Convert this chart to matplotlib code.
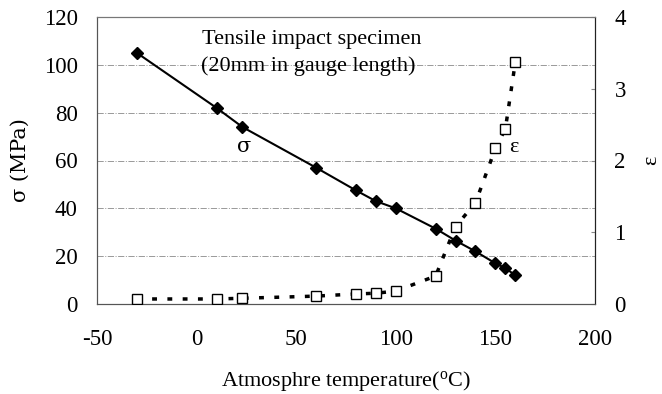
import matplotlib
matplotlib.use("Agg")
import matplotlib.pyplot as plt
from matplotlib.ticker import MultipleLocator

temp = [-30, 10, 23, 60, 80, 90, 100, 120, 130, 140, 150, 155, 160]
sigma = [105, 82, 74, 57, 47.5, 43, 40, 31.5, 26.5, 22, 17, 15, 12]
eps = [0.07, 0.07, 0.08, 0.11, 0.14, 0.15, 0.18, 0.39, 1.08, 1.41, 2.17, 2.44, 3.37]

plt.rcParams["font.family"] = ["Liberation Serif", "DejaVu Serif"]
plt.rcParams["font.size"] = 16.5
plt.rcParams["axes.unicode_minus"] = False

fig = plt.figure(figsize=(6.62, 3.94), dpi=100)
ax = fig.add_axes([97 / 662, 1 - 304 / 394, (595 - 97) / 662, (304 - 17) / 394])
ax2 = ax.twinx()

ax.set_xlim(-50, 200)
ax.set_ylim(0, 120)
ax2.set_ylim(0, 4)
ax.xaxis.set_major_locator(MultipleLocator(50))
ax.yaxis.set_major_locator(MultipleLocator(20))
ax2.yaxis.set_major_locator(MultipleLocator(1))

ax.grid(axis="y", color="#999999", linestyle="-.", linewidth=0.7)
ax.set_axisbelow(True)

ax.plot(temp, sigma, color="black", linewidth=1.5, marker="D", markersize=6,
        markerfacecolor="black", zorder=3)
ax2.plot(temp, eps, color="black", linestyle=(0, (1.4, 3.0)), linewidth=2.5,
         marker="s", markersize=7, markerfacecolor="white",
         markeredgecolor="black", markeredgewidth=1.0, zorder=3)

ax.tick_params(axis="y", length=0, pad=14)
ax.tick_params(axis="x", length=0, pad=18)
ax2.tick_params(axis="y", direction="in", length=3, color="#888888", pad=14)

for a in (ax, ax2):
    a.spines["top"].set_color("#777777")
    a.spines["left"].set_color("#555555")
    a.spines["right"].set_color("#222222")
    a.spines["bottom"].set_color("#555555")

ax.set_ylabel("σ (MPa)", fontsize=15, family=["DejaVu Serif"], labelpad=10)
ax2.set_ylabel("ε", fontsize=16, rotation=90, labelpad=12)
ax.set_xlabel("Atmosphre temperature($\\mathregular{^o}$C)", fontsize=16, labelpad=14)

ax.text(58, 110.5, "Tensile impact specimen", ha="center", va="center", fontsize=16)
ax.text(56, 99.5, "(20mm in gauge length)", ha="center", va="center", fontsize=16)
ax.text(24, 66, "σ", ha="center", va="center", fontsize=15, family=["DejaVu Serif"])
ax2.text(159, 2.18, "ε", ha="center", va="center", fontsize=16)

fig.savefig("out.png", dpi=100)
